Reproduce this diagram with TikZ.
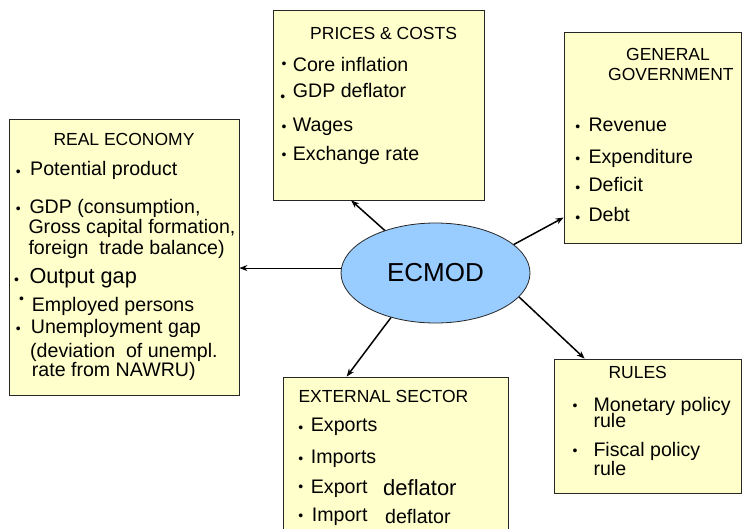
\documentclass[tikz,border=0pt]{standalone}
\usepackage{fontspec}
\setmainfont{Liberation Sans}
\usepackage{xcolor}
\definecolor{PanelYellow}{RGB}{255,255,204}
\definecolor{CoreBlue}{RGB}{153,204,255}
\colorlet{edgefg}{black!85}
\usetikzlibrary{arrows.meta,shapes.geometric}
\tikzset{%
  panel/.style={draw=edgefg, fill=PanelYellow, line width=0.8pt, inner sep=0pt},
  core/.style={ellipse, draw=edgefg, fill=CoreBlue, line width=0.8pt, inner sep=0pt,
    font=\fontsize{26}{30}\selectfont},
  head/.style={anchor=base west, inner sep=0pt, font=\fontsize{17.5}{20}\selectfont},
  item/.style={anchor=base west, inner sep=0pt, font=\fontsize{19.6}{22}\selectfont},
  bulletdot/.style={anchor=base, inner sep=0pt, font=\fontsize{14}{16}\selectfont},
  link/.style={line width=1.5pt, -{Stealth[length=8pt,width=6pt]}}
}

\begin{document}
\begin{tikzpicture}[x=1pt,y=-1pt]
  \useasboundingbox (0,0) rectangle (742,528);
  \clip (0,0) rectangle (742,528);
  % panels
  \node[panel, minimum width=230pt, minimum height=276pt] (real) at (124,257) {};
  \node[panel, minimum width=211pt, minimum height=190pt] (prices) at (378.5,105) {};
  \node[panel, minimum width=177pt, minimum height=211pt] (gov) at (652.5,137.5) {};
  \node[panel, minimum width=225pt, minimum height=183pt] (ext) at (395.5,468.5) {};
  \node[panel, minimum width=187pt, minimum height=134pt] (rules) at (647.5,426) {};
  \node[core, minimum width=189pt, minimum height=100pt] (ecmod) at (435.5,273) {ECMOD};

  % real economy
  \node[head] (real-h) at (53.3,145) {REAL ECONOMY};
  \foreach \x/\y/\t [count=\i] in {30/175.7/Potential product,
      29.3/213.3/{GDP (consumption,}, 28.3/233.3/{Gross capital formation,},
      28.3/254/{foreign\ \ trade balance)}, 31.7/311.7/Employed persons,
      30.7/333/Unemployment gap, 30/357/{(deviation\ \ of unempl.},
      31.7/376.5/rate from NAWRU)}
    \node[item] (real-\i) at (\x,\y) {\t};
  \node[item, font=\fontsize{21.7}{24}\selectfont] (real-gap) at (29.3,283) {Output gap};
  \foreach \x/\y [count=\i] in {18.3/176.7, 18.3/213.3, 16.7/284, 21.7/303.3, 18.3/333.3}
    \node[bulletdot] (real-b\i) at (\x,\y) {•};

  % prices and costs
  \node[head] (prices-h) at (310,39.3) {PRICES \& COSTS};
  \foreach \y/\t [count=\i] in {71/Core inflation, 97.7/GDP deflator,
      131.7/Wages, 160.7/Exchange rate}
    \node[item] (prices-\i) at (292.7,\y) {\t};
  \foreach \x/\y [count=\i] in {284/68.3, 282.7/101.7, 284/131, 284/159}
    \node[bulletdot] (prices-b\i) at (\x,\y) {•};

  % general government
  \node[head] (gov-h1) at (626,60) {GENERAL};
  \node[head] (gov-h2) at (608,80) {GOVERNMENT};
  \foreach \y/\t [count=\i] in {131/Revenue, 163.3/Expenditure, 191.7/Deficit, 221.7/Debt}
    \node[item] (gov-\i) at (588.3,\y) {\t};
  \foreach \y [count=\i] in {131.7, 163.3, 192.3, 222.3}
    \node[bulletdot] (gov-b\i) at (577.7,\y) {•};

  % external sector
  \node[head] (ext-h) at (298.3,402.7) {EXTERNAL SECTOR};
  \foreach \x/\y/\t [count=\i] in {310.7/431.7/Exports, 310.7/463.3/Imports,
      310.7/493.3/Export, 311.7/521.5/Import, 385/523.3/deflator}
    \node[item] (ext-\i) at (\x,\y) {\t};
  \node[item, font=\fontsize{22}{24}\selectfont] (ext-defl) at (383,495.5) {deflator};
  \foreach \y [count=\i] in {432.3, 463.3, 491.7, 520.7}
    \node[bulletdot] (ext-b\i) at (300.7,\y) {•};

  % rules
  \node[head] (rules-h) at (608.3,378.3) {RULES};
  \foreach \y/\t [count=\i] in {411.7/Monetary policy, 427/rule, 456.7/Fiscal policy, 475.5/rule}
    \node[item] (rules-\i) at (593.3,\y) {\t};
  \foreach \y [count=\i] in {410.7, 455.7}
    \node[bulletdot] (rules-b\i) at (575,\y) {•};

  % links
  \draw[link, line width=0.8pt] (ecmod.177) -- (ecmod.177 -| real.east);
  \draw[link] (ecmod.140) -- (prices.254);
  \draw[link] (ecmod.20) -- (gov.222);
  \draw[link] (ecmod.344) -- (rules.133);
  \draw[link] (ecmod.225) -- (ext.118);
\end{tikzpicture}
\end{document}
